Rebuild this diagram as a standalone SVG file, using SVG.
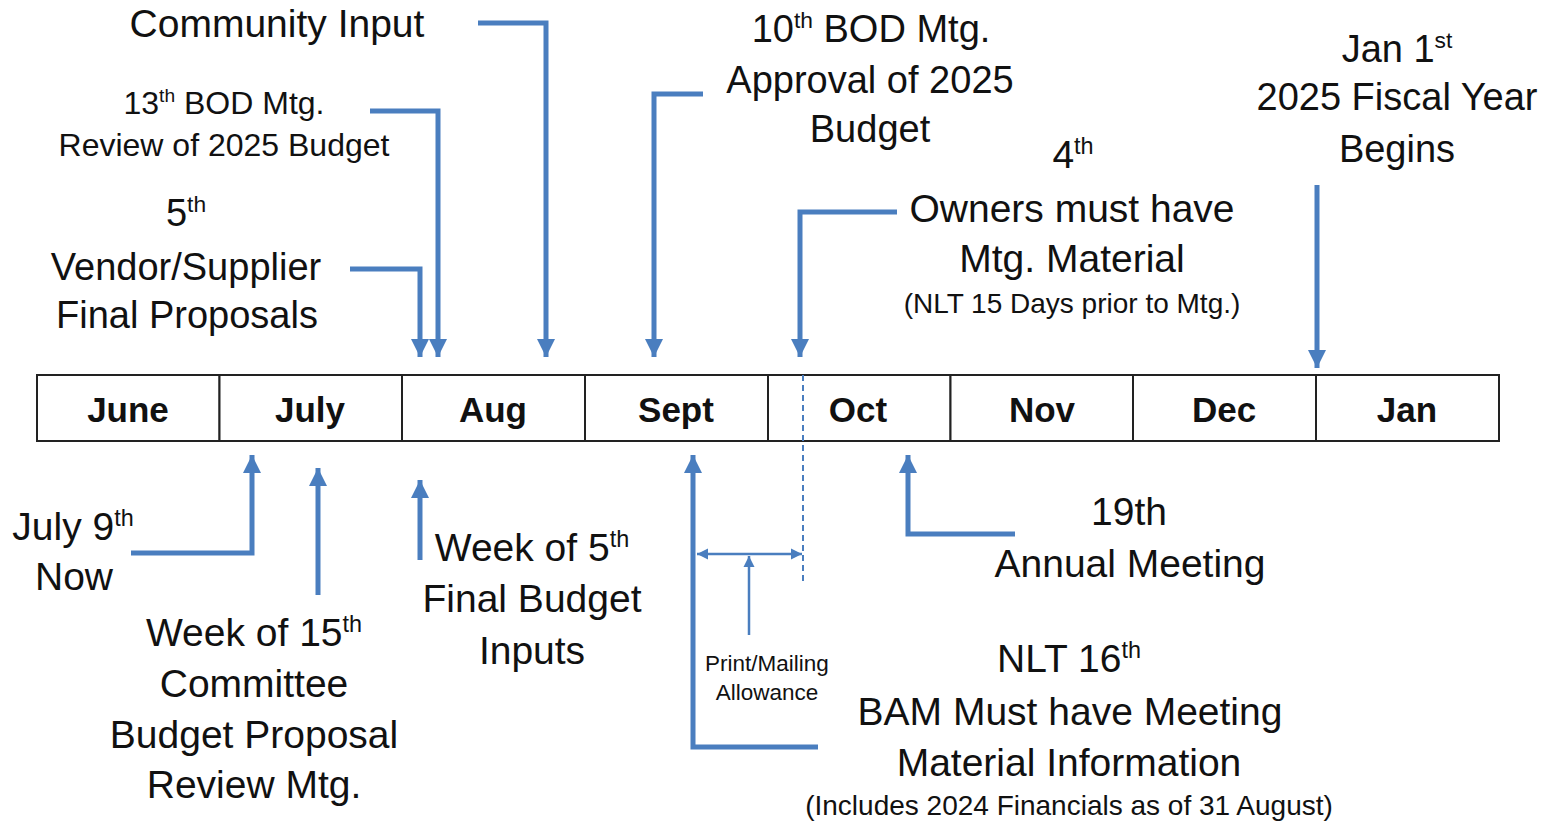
<svg xmlns="http://www.w3.org/2000/svg" width="1543" height="823" viewBox="0 0 1543 823">
<style>
text{font-family:"Liberation Sans",Arial,sans-serif;fill:#111;text-anchor:middle}
.t{font-size:39px}
.v{font-size:38px}
.s{font-size:32px}
.m{font-size:35px;font-weight:bold}
.n{font-size:28px}
.p{font-size:22.5px}
.sup{font-size:60%}
.cell{fill:#fff;stroke:#222;stroke-width:2}
.a{fill:none;stroke:#4A7EBF;stroke-width:5}
.th{fill:none;stroke:#4A7EBF;stroke-width:2.5}
.d{fill:none;stroke:#4A7EBF;stroke-width:2;stroke-dasharray:6 4}
</style>
<defs>
<marker id="ah" markerUnits="userSpaceOnUse" markerWidth="20" markerHeight="20" refX="18" refY="10" orient="auto"><path d="M0,1 L18,10 L0,19 Z" fill="#4A7EBF"/></marker>
<marker id="ahs" markerUnits="userSpaceOnUse" markerWidth="12" markerHeight="12" refX="11" refY="6" orient="auto-start-reverse"><path d="M0,0.5 L11,6 L0,11.5 Z" fill="#4A7EBF"/></marker>
</defs>
<rect width="1543" height="823" fill="#fff"/>
<g id="timeline">
<g id="june"><rect class="cell" x="37" y="375" width="182.5" height="66"/><text class="m" x="128" y="422">June</text></g>
<g id="july"><rect class="cell" x="219.5" y="375" width="182.5" height="66"/><text class="m" x="310" y="422">July</text></g>
<g id="aug"><rect class="cell" x="402" y="375" width="183" height="66"/><text class="m" x="493" y="422">Aug</text></g>
<g id="sept"><rect class="cell" x="585" y="375" width="183" height="66"/><text class="m" x="676" y="422">Sept</text></g>
<g id="oct"><rect class="cell" x="768" y="375" width="182.5" height="66"/><text class="m" x="858" y="422">Oct</text></g>
<g id="nov"><rect class="cell" x="950.5" y="375" width="182.5" height="66"/><text class="m" x="1042" y="422">Nov</text></g>
<g id="dec"><rect class="cell" x="1133" y="375" width="183" height="66"/><text class="m" x="1224" y="422">Dec</text></g>
<g id="jan"><rect class="cell" x="1316" y="375" width="183" height="66"/><text class="m" x="1407" y="422">Jan</text></g>
</g>
<g id="connectors">
<path class="a" d="M478,23 H546 V357" marker-end="url(#ah)"/>
<path class="a" d="M370,111 H438 V357" marker-end="url(#ah)"/>
<path class="a" d="M350,269 H420 V357" marker-end="url(#ah)"/>
<path class="a" d="M703,94 H654 V357" marker-end="url(#ah)"/>
<path class="a" d="M897,212 H800 V357" marker-end="url(#ah)"/>
<path class="a" d="M1317,185 V368" marker-end="url(#ah)"/>
<path class="a" d="M131,553 H252 V455" marker-end="url(#ah)"/>
<path class="a" d="M318,595 V468" marker-end="url(#ah)"/>
<path class="a" d="M420,560 V480" marker-end="url(#ah)"/>
<path class="a" d="M818,747 H693 V455" marker-end="url(#ah)"/>
<path class="a" d="M1015,534 H908 V455" marker-end="url(#ah)"/>
<path class="d" d="M803,375 V583"/>
<path class="th" d="M697,554 H802" marker-start="url(#ahs)" marker-end="url(#ahs)"/>
<path class="th" d="M749,635 V556" marker-end="url(#ahs)"/>
</g>
<g id="community-input"><text class="t" x="277" y="37">Community Input</text></g>
<g id="bod-13"><text class="s" x="224" y="114">13<tspan class="sup" dy="-12">th</tspan><tspan dy="12"> BOD Mtg.</tspan></text><text class="s" x="224" y="156">Review of 2025 Budget</text></g>
<g id="vendor"><text class="v" x="186" y="226">5<tspan class="sup" dy="-14">th</tspan></text><text class="v" x="186" y="280">Vendor/Supplier</text><text class="v" x="187" y="328">Final Proposals</text></g>
<g id="bod-10"><text class="v" x="871" y="42">10<tspan class="sup" dy="-14">th</tspan><tspan dy="14"> BOD Mtg.</tspan></text><text class="v" x="870" y="93">Approval of 2025</text><text class="v" x="870" y="142">Budget</text></g>
<g id="fiscal-year"><text class="v" x="1397" y="62">Jan 1<tspan class="sup" dy="-14">st</tspan></text><text class="v" x="1397" y="110">2025 Fiscal Year</text><text class="v" x="1397" y="162">Begins</text></g>
<g id="owners"><text class="t" x="1073" y="168">4<tspan class="sup" dy="-14">th</tspan></text><text class="t" x="1072" y="222">Owners must have</text><text class="t" x="1072" y="272">Mtg. Material</text><text class="n" x="1072" y="313">(NLT 15 Days prior to Mtg.)</text></g>
<g id="now"><text class="t" x="73" y="540">July 9<tspan class="sup" dy="-14">th</tspan></text><text class="t" x="74" y="590">Now</text></g>
<g id="committee"><text class="t" x="254" y="646">Week of 15<tspan class="sup" dy="-14">th</tspan></text><text class="t" x="254" y="697">Committee</text><text class="t" x="254" y="748">Budget Proposal</text><text class="t" x="254" y="798">Review Mtg.</text></g>
<g id="final-budget"><text class="t" x="532" y="561">Week of 5<tspan class="sup" dy="-14">th</tspan></text><text class="t" x="532" y="612">Final Budget</text><text class="t" x="532" y="664">Inputs</text></g>
<g id="print-mailing"><text class="p" x="767" y="671">Print/Mailing</text><text class="p" x="767" y="700">Allowance</text></g>
<g id="annual-meeting"><text class="t" x="1129" y="525">19th</text><text class="t" x="1130" y="577">Annual Meeting</text></g>
<g id="bam"><text class="t" x="1069" y="672">NLT 16<tspan class="sup" dy="-14">th</tspan></text><text class="t" x="1070" y="725">BAM Must have Meeting</text><text class="t" x="1069" y="776">Material Information</text><text class="n" x="1069" y="815">(Includes 2024 Financials as of 31 August)</text></g>
</svg>
